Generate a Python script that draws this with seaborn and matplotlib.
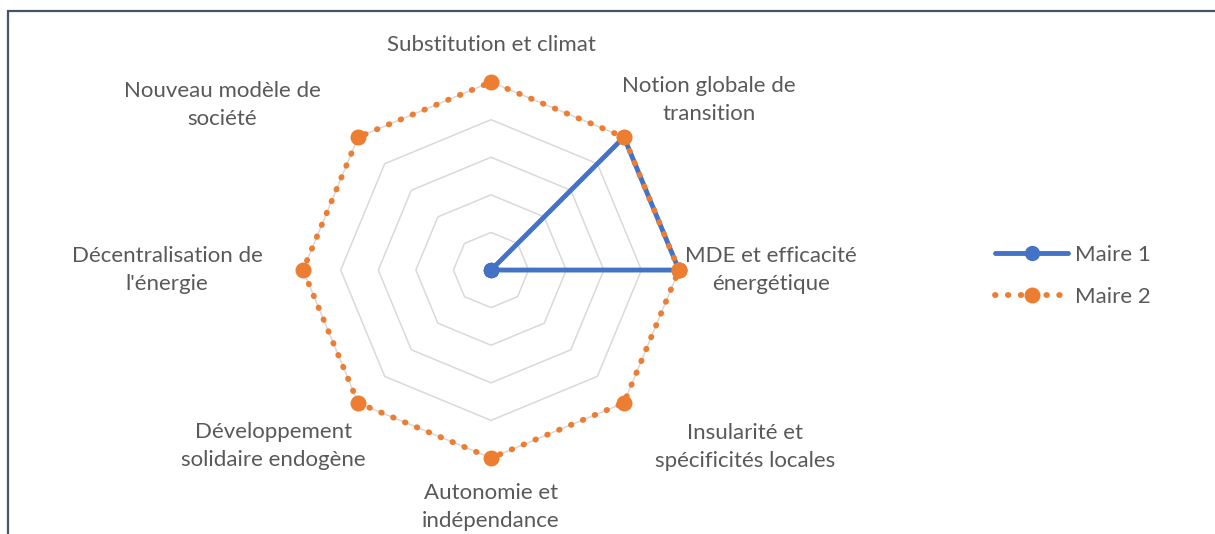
import numpy as np
import pandas as pd
import matplotlib
matplotlib.use("Agg")
import matplotlib.pyplot as plt
import seaborn as sns
from matplotlib.patches import Rectangle

categories = [
    "MDE et efficacité\nénergétique",
    "Notion globale de\ntransition",
    "Substitution et climat",
    "Nouveau modèle de\nsociété",
    "Décentralisation de\nl'énergie",
    "Développement\nsolidaire endogène",
    "Autonomie et\nindépendance",
    "Insularité et\nspécificités locales",
]
maire1 = [5, 5, 0, 0, 0, 0, 0, 0]
maire2 = [5, 5, 5, 5, 5, 5, 5, 5]
ring_levels = [1, 2, 3, 4, 5]

# label offsets (points) from each outer vertex
label_offsets = [(66, 0), (61, 27), (0, 27), (-98, 23), (-98, 0), (-61, -31), (0, -35), (87, -32)]

BLUE = "#4472C4"
ORANGE = "#ED7D31"
GRID = "#D9D9D9"
TEXT = "#595959"
FS = 16

sns.set_theme(style="white")
plt.rcParams["font.family"] = ["Lato", "DejaVu Sans"]

n = len(categories)
angles = np.arange(n) * 2 * np.pi / n
closed = np.append(angles, angles[0])

df = pd.DataFrame({
    "angle": np.concatenate([closed, closed]),
    "value": maire1 + maire1[:1] + maire2 + maire2[:1],
    "serie": ["Maire 1"] * (n + 1) + ["Maire 2"] * (n + 1),
})

fig = plt.figure(figsize=(12.15, 5.34), dpi=100)
ax = fig.add_axes([0.2494, 0.1423, 0.3095, 0.704], projection="polar")
ax.grid(False)
ax.spines["polar"].set_visible(False)
ax.set_xticks([])
ax.set_yticks([])
ax.patch.set_alpha(0)

for lv in ring_levels:
    ax.plot(closed, [lv] * (n + 1), color=GRID, lw=1.1, zorder=1)

m1 = df[df.serie == "Maire 1"]
m2 = df[df.serie == "Maire 2"]
sns.lineplot(data=m1, x="angle", y="value", sort=False, ax=ax, color=BLUE,
             lw=3.5, marker="o", markersize=11, markeredgewidth=0,
             label="Maire 1", zorder=3, estimator=None)
sns.lineplot(data=m2, x="angle", y="value", sort=False, ax=ax, color=ORANGE,
             lw=4.2, linestyle=(0, (0.1, 2.1)),
             marker="o", markersize=11.5, markeredgewidth=0,
             label="Maire 2", zorder=4, estimator=None)
for l in ax.get_lines():
    l.set_clip_on(False)
    l.set_dash_capstyle("round")
ax.set_xlabel("")
ax.set_ylabel("")
ax.set_ylim(0, 5)

for ang, lab, off in zip(angles, categories, label_offsets):
    ax.annotate(lab, xy=(ang, 5), xytext=off, textcoords="offset points",
                ha="center", va="center", fontsize=FS, color=TEXT,
                linespacing=1.5)

leg = ax.legend(loc="center left", bbox_to_anchor=(975 / 1215, 258 / 534),
                bbox_transform=fig.transFigure, frameon=False, fontsize=FS,
                handlelength=3.3, labelspacing=1.0, handletextpad=0.3)
for t in leg.get_texts():
    t.set_color(TEXT)
for h in leg.get_lines():
    h.set_dash_capstyle("round")

fig.patches.append(Rectangle((8 / 1215, -0.1), 1.1, (534 - 11) / 534 + 0.1,
                             transform=fig.transFigure, fill=False,
                             edgecolor="#44546A", lw=1.6))

fig.savefig("out.png", dpi=100, facecolor="white")
